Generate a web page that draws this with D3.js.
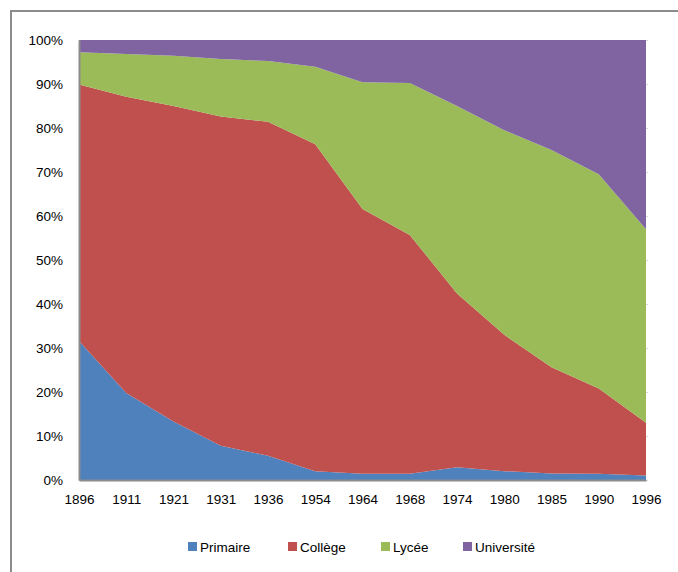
<!DOCTYPE html>
<html><head><meta charset="utf-8">
<script src="https://cdn.jsdelivr.net/npm/d3@7"></script>
<style>body{margin:0;background:#fff}svg{display:block}</style>
</head><body>
<svg id="c" width="678" height="572"></svg>
<script>
const years = ["1896","1911","1921","1931","1936","1954","1964","1968","1974","1980","1985","1990","1996"];
const primaire   = [31.6, 19.8, 13.3, 7.8, 5.5, 2.0, 1.4, 1.4, 2.9, 2.0, 1.5, 1.4, 1.0];
const college    = [58.3, 67.3, 71.7, 74.8, 75.9, 74.3, 60.2, 54.3, 39.5, 31.0, 24.1, 19.4, 12.0];
const lycee      = [7.3, 9.7, 11.4, 13.1, 13.8, 17.6, 28.8, 34.5, 42.6, 46.5, 49.4, 48.7, 44.0];
const universite = [2.8, 3.2, 3.6, 4.3, 4.8, 6.1, 9.6, 9.8, 15.0, 20.5, 25.0, 30.5, 43.0];
const seriesNames = ["Primaire","Collège","Lycée","Université"];
const colors = ["#4F81BD","#C0504D","#9BBB59","#8064A2"];
const yTicks = [0,0.1,0.2,0.3,0.4,0.5,0.6,0.7,0.8,0.9,1];

const svg = d3.select("#c");
const font = "'Liberation Sans', Arial, sans-serif";
svg.append("rect").attr("x",11).attr("y",11).attr("width",720).attr("height",620)
  .attr("fill","none").attr("stroke","#8c8c8c").attr("stroke-width",2);

const L=79, R=646, T=40, B=480;
const x = d3.scalePoint().domain(years).range([L,R]);
const y = d3.scaleLinear().domain([0,1]).range([B,T]);

const table = years.map((yr,i)=>{
  const tot = primaire[i]+college[i]+lycee[i]+universite[i];
  return {year:yr, "Primaire":primaire[i]/tot, "Collège":college[i]/tot, "Lycée":lycee[i]/tot, "Université":universite[i]/tot};
});
const stack = d3.stack().keys(seriesNames)(table);

// gridlines
svg.append("g").selectAll("line").data(yTicks).join("line")
  .attr("x1",L).attr("x2",R+2).attr("y1",d=>Math.round(y(d))+0.5).attr("y2",d=>Math.round(y(d))+0.5)
  .attr("stroke","#d9d9d9").attr("stroke-width",1);

const area = d3.area().x(d=>x(d.data.year)).y0(d=>y(d[0])).y1(d=>y(d[1]));
svg.append("g").selectAll("path").data(stack).join("path")
  .attr("d",area).attr("fill",(d,i)=>colors[i]);

// axes
const yAxis = d3.axisLeft(y).tickValues(yTicks).tickFormat(d3.format(".0%")).tickSize(0).tickPadding(16);
const gy = svg.append("g").attr("transform",`translate(${L},0)`).call(yAxis);
gy.select(".domain").attr("stroke","#8c8c8c").attr("stroke-width",2);
gy.selectAll("text").attr("font-family",font).attr("font-size","13.5px").attr("fill","#000");

const xAxis = d3.axisBottom(x).tickSize(0).tickPadding(14);
const gx = svg.append("g").attr("transform",`translate(0,${B})`).call(xAxis);
gx.select(".domain").attr("stroke","#8c8c8c").attr("stroke-width",2);
gx.selectAll("text").attr("font-family",font).attr("font-size","13.5px").attr("fill","#000");

// legend
const legX = [188, 288, 381, 463];
const lg = svg.append("g").selectAll("g").data(seriesNames).join("g")
  .attr("transform",(d,i)=>`translate(${legX[i]},542)`);
lg.append("rect").attr("width",9).attr("height",9).attr("fill",(d,i)=>colors[i]);
lg.append("text").attr("x",12).attr("y",9.5).text(d=>d)
  .attr("font-family",font).attr("font-size","13.5px").attr("fill","#000");
</script>
</body></html>
